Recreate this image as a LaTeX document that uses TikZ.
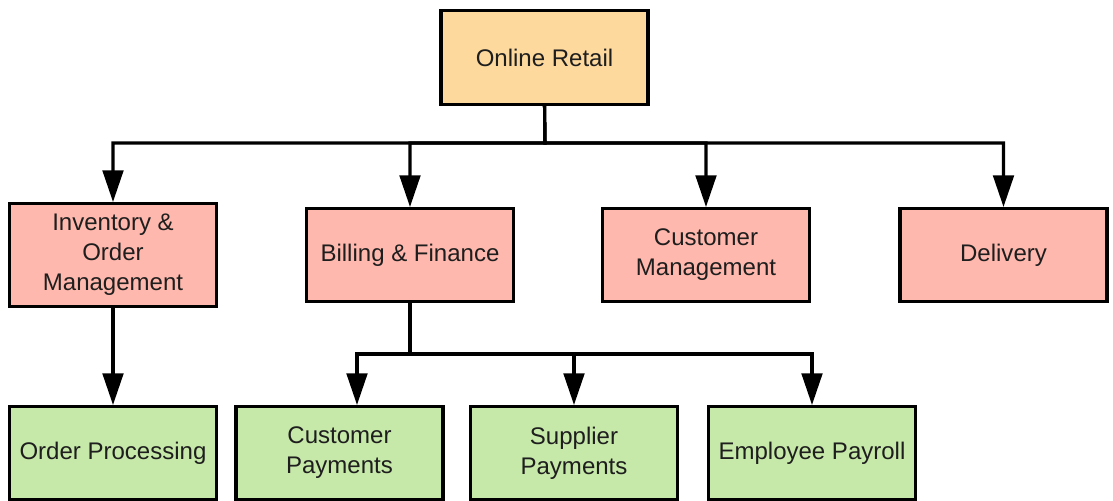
\documentclass[tikz,border=0pt]{standalone}
\usepackage{fontspec}
\setmainfont{Liberation Sans}
\usetikzlibrary{arrows.meta,calc}

\definecolor{rootfill}{HTML}{FDD99E}
\definecolor{unitfill}{HTML}{FFB8AD}
\definecolor{taskfill}{HTML}{C6E8A8}
\definecolor{inkgray}{HTML}{1E1E1E}

\tikzset{
    box/.style={draw=black, line width=2.6pt, minimum width=207*0.03cm,
        align=center, text=inkgray, inner sep=0pt,
        font=\fontsize{20.5}{25.5}\selectfont},
    rootbox/.style={box, fill=rootfill, minimum height=94*0.03cm},
    unitbox/.style={box, fill=unitfill, minimum height=93*0.03cm},
    taskbox/.style={box, fill=taskfill, minimum height=93*0.03cm},
    link/.style={line width=2.6pt},
    arr/.style={link, -{Triangle[width=0.62cm, length=0.95cm]}}
}

\begin{document}
\begin{tikzpicture}[x=0.03cm, y=-0.03cm]
    % Fix the page size to the reference
    \useasboundingbox (0,0) rectangle (1113,501);

    % Top of the tree
    \node[rootbox] (retail) at (544.5,57.5) {Online Retail};

    % Second level
    \node[unitbox, minimum height=103*0.03cm] (inv) at (113,255) {Inventory \&\\Order\\Management};
    \node[unitbox] (bill) at (410,255) {Billing \& Finance};
    \node[unitbox] (cust) at (706,255) {Customer\\Management};
    \node[unitbox] (deliv) at (1003.5,255) {Delivery};

    % Third level
    \node[taskbox] (order) at (113,453) {Order Processing};
    \node[taskbox] (cpay) at (339.5,453) {Customer\\Payments};
    \node[taskbox] (spay) at (574,453) {Supplier\\Payments};
    \node[taskbox] (payroll) at (812,453) {Employee Payroll};

    % Connectors from the root
    \coordinate (busA) at (545,143);
    \foreach \n in {inv, bill, cust, deliv} {
        \draw[arr] (retail.south) -- (busA) -| (\n.north);
    }

    % Connector below inventory
    \draw[arr] (inv.south) -- (order.north);

    % Connectors below billing
    \coordinate (busB) at (410,354);
    \coordinate (cpayin) at ($(cpay.north)+(17.5,0)$);
    \draw[arr] (bill.south) -- (busB) -| (cpayin);
    \foreach \n in {spay, payroll} {
        \draw[arr] (bill.south) -- (busB) -| (\n.north);
    }
\end{tikzpicture}
\end{document}
